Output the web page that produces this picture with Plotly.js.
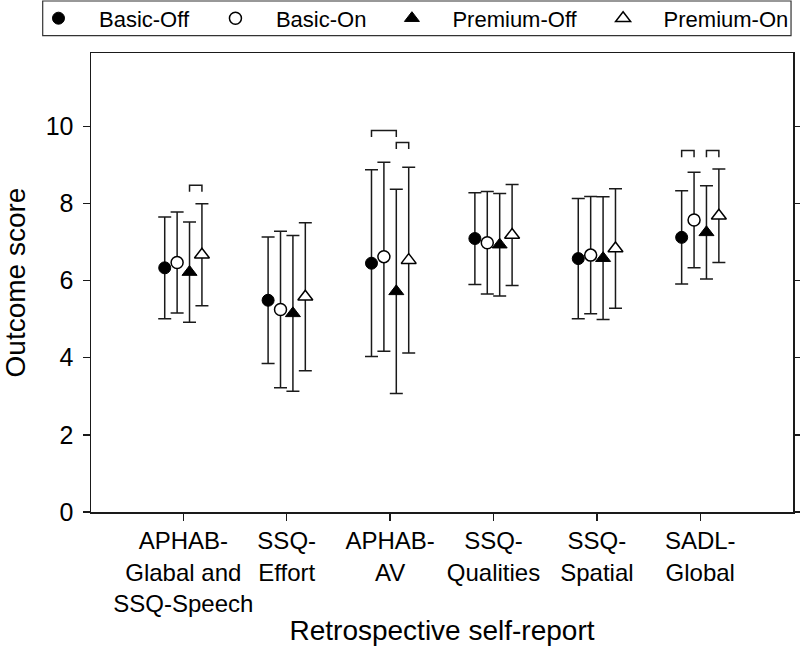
<!DOCTYPE html>
<html><head><meta charset="utf-8">
<script src="https://cdn.plot.ly/plotly-3.0.1.min.js"></script>
<style>html,body{margin:0;padding:0;background:#fff}#chart{width:800px;height:646px}</style>
</head><body><div id="chart"></div>
<script>
// ---- data ----
const categories = ["APHAB-<br>Glabal and<br>SSQ-Speech", "SSQ-<br>Effort", "APHAB-<br>AV", "SSQ-<br>Qualities", "SSQ-<br>Spatial", "SADL-<br>Global"];
const seriesNames = ["Basic-Off", "Basic-On", "Premium-Off", "Premium-On"];
const basicOffMean   = [6.33, 5.49, 6.45, 7.09, 6.57, 7.12];
const basicOffSD     = [1.32, 1.64, 2.42, 1.19, 1.56, 1.21];
const basicOnMean    = [6.47, 5.25, 6.62, 6.98, 6.66, 7.57];
const basicOnSD      = [1.31, 2.03, 2.45, 1.33, 1.52, 1.24];
const premiumOffMean = [6.22, 5.15, 5.72, 6.93, 6.58, 7.25];
const premiumOffSD   = [1.30, 2.02, 2.65, 1.33, 1.59, 1.21];
const premiumOnMean  = [6.67, 5.58, 6.53, 7.18, 6.83, 7.68];
const premiumOnSD    = [1.32, 1.92, 2.41, 1.31, 1.55, 1.21];
// significance brackets: [category index, from series, to series, bracket level]
const bracketGroup = [0, 2, 2, 5, 5];
const bracketFrom  = [2, 0, 2, 0, 2];
const bracketTo    = [3, 2, 3, 1, 3];
const bracketLevel = [8.47, 9.89, 9.58, 9.37, 9.37];
const yTicks = [0, 2, 4, 6, 8, 10];

// ---- styling ----
const FONT = "Liberation Sans, Arial, sans-serif";
const INK = "#1a1a1a";
const offsets = [-0.18, -0.06, 0.06, 0.18];
const means = [basicOffMean, basicOnMean, premiumOffMean, premiumOnMean];
const sds = [basicOffSD, basicOnSD, premiumOffSD, premiumOnSD];
const markerStyles = [
  {symbol: "circle", color: "#000", size: 12, line: {color: "#000", width: 1}},
  {symbol: "circle", color: "#fff", size: 12, line: {color: "#000", width: 1.5}},
  {symbol: "triangle-up", color: "#000", size: 13, line: {color: "#000", width: 1}},
  {symbol: "triangle-up", color: "#fff", size: 13, line: {color: "#000", width: 1.5}}
];

const traces = seriesNames.map((name, s) => ({
  type: "scatter",
  mode: "markers",
  name: name,
  x: categories.map((c, i) => i + offsets[s]),
  y: means[s],
  marker: markerStyles[s],
  error_y: {type: "data", array: sds[s], visible: true, color: INK, thickness: 1.5, width: 6.5},
  cliponaxis: false,
  hoverinfo: "y"
}));

const leg = 0.17;
const shapes = bracketGroup.map((g, k) => {
  const x1 = g + offsets[bracketFrom[k]];
  const x2 = g + offsets[bracketTo[k]];
  const y = bracketLevel[k];
  return {
    type: "path", xref: "x", yref: "y",
    path: `M ${x1},${y - leg} L ${x1},${y} L ${x2},${y} L ${x2},${y - leg}`,
    line: {color: INK, width: 1.5}
  };
});
// legend frame
shapes.push({
  type: "rect", xref: "paper", yref: "paper",
  x0: -0.0688, x1: 0.9972, y0: 1.0377, y1: 1.1133,
  line: {color: "#333", width: 1.2}, fillcolor: "rgba(0,0,0,0)"
});

const layout = {
  width: 800, height: 646,
  margin: {l: 91, r: 7, t: 53, b: 134, autoexpand: false},
  paper_bgcolor: "#fff", plot_bgcolor: "#fff",
  font: {family: FONT, color: "#000"},
  showlegend: true,
  legend: {
    orientation: "h",
    x: -0.104, xanchor: "left", y: 1.0754, yanchor: "middle",
    font: {family: FONT, size: 22, color: "#000"},
    itemwidth: 71, bgcolor: "rgba(0,0,0,0)", borderwidth: 0
  },
  xaxis: {
    range: [-0.893, 5.897],
    tickmode: "array", tickvals: categories.map((c, i) => i), ticktext: categories,
    ticks: "outside", ticklen: 7, tickwidth: 1.5, tickcolor: INK,
    showline: true, linecolor: INK, linewidth: 1.5, mirror: true,
    showgrid: false, zeroline: false,
    tickfont: {family: FONT, size: 24, color: "#000"},
    title: {text: "Retrospective self-report", font: {family: FONT, size: 28, color: "#000"}, standoff: 12},
    automargin: false
  },
  yaxis: {
    range: [0, 11.9],
    tickmode: "array", tickvals: yTicks,
    ticks: "outside", ticklen: 7, tickwidth: 1.5, tickcolor: INK,
    showline: true, linecolor: INK, linewidth: 1.5, mirror: "ticks",
    showgrid: false, zeroline: false,
    ticklabelstandoff: 4,
    tickfont: {family: FONT, size: 25, color: "#000"},
    title: {text: "Outcome score", font: {family: FONT, size: 28, color: "#000"}, standoff: 16},
    automargin: false
  },
  shapes: shapes
};

Plotly.newPlot("chart", traces, layout, {displayModeBar: false, staticPlot: true});
</script>
</body></html>
